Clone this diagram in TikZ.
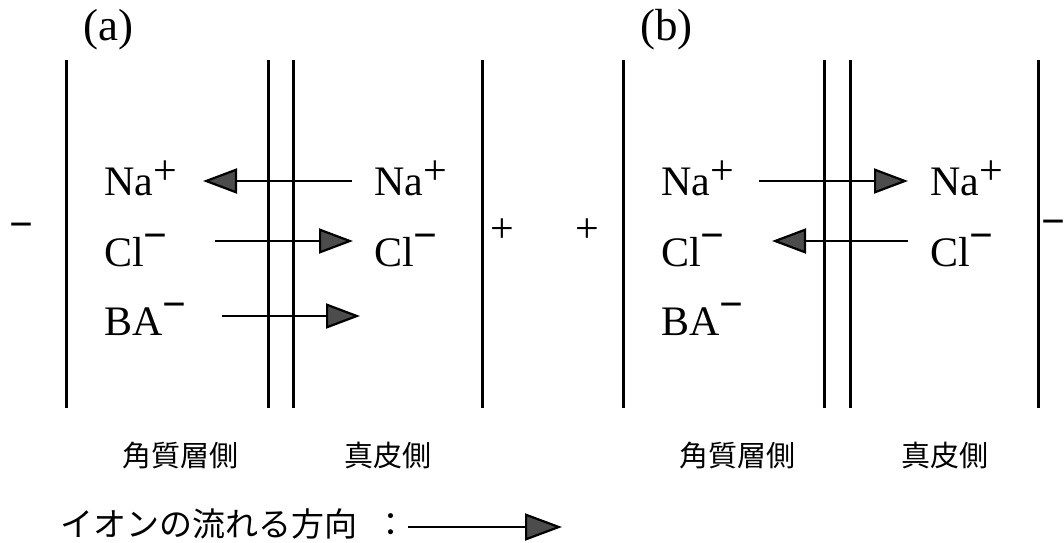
\documentclass[tikz,border=0pt]{standalone}
\usepackage{fontspec}
\setmainfont{Liberation Serif}
\newfontfamily\jpfont{Noto Sans CJK JP}
\usetikzlibrary{arrows.meta}
\newcommand{\ionp}{\raisebox{11pt}{+}}
\newcommand{\ionm}{\raisebox{17pt}{\textbf{−}}}
\begin{document}
\begin{tikzpicture}[x=1pt,y=-1pt,
  ion/.style={anchor=base west, inner sep=0pt, font=\fontsize{42}{48}\selectfont},
  sign/.style={inner sep=0pt, font=\fontsize{42}{48}\selectfont},
  panel/.style={anchor=base west, inner sep=0pt, font=\fontsize{45}{50}\selectfont},
  side/.style={anchor=base west, inner sep=0pt, font=\jpfont\fontsize{29}{34}\selectfont},
  legend/.style={anchor=base west, inner sep=0pt, font=\jpfont\fontsize{33}{38}\selectfont},
  wall/.style={line width=3pt},
  flow/.style={line width=2.2pt, -{Triangle[length=34pt,width=25pt,fill=black!70]}},
]
\useasboundingbox (0,0) rectangle (1064,542);

% panel labels
\node[panel] (labA) at (83,40) {(a)};
\node[panel] (labB) at (640,40) {(b)};

% walls (a)
\draw[wall] (66,60) -- (66,408);
\draw[wall] (268,60) -- (268,408);
\draw[wall] (293,60) -- (293,408);
\draw[wall] (482,60) -- (482,408);
% walls (b)
\draw[wall] (623,60) -- (623,408);
\draw[wall] (824,60) -- (824,408);
\draw[wall] (850,60) -- (850,408);
\draw[wall] (1038,60) -- (1038,408);

% electrode signs
\node[sign] (mA) at (21,231) {\textbf{−}};
\node[sign] (pA) at (502.5,231) {+};
\node[sign] (pB) at (587.5,231) {+};
\node[sign] (mB) at (1053,228) {\textbf{−}};

% ions (a)
\node[ion] (naAL) at (104,195) {Na\ionp};
\node[ion] (clAL) at (104,266) {Cl\ionm};
\node[ion] (baAL) at (104,335) {BA\ionm};
\node[ion] (naAR) at (374,195) {Na\ionp};
\node[ion] (clAR) at (374,266) {Cl\ionm};
% ions (b)
\node[ion] (naBL) at (661,195) {Na\ionp};
\node[ion] (clBL) at (661,266) {Cl\ionm};
\node[ion] (baBL) at (661,335) {BA\ionm};
\node[ion] (naBR) at (930,195) {Na\ionp};
\node[ion] (clBR) at (930,266) {Cl\ionm};

% arrow end points
\coordinate (aNaS) at (352,181); \coordinate (aNaE) at (203,181);
\coordinate (aClS) at (215,241); \coordinate (aClE) at (353,241);
\coordinate (aBaS) at (222,316); \coordinate (aBaE) at (360,316);
\coordinate (bNaS) at (759,181); \coordinate (bNaE) at (908,181);
\coordinate (bClS) at (908,241); \coordinate (bClE) at (772,241);
\coordinate (lgS) at (408,527); \coordinate (lgE) at (562,527);

\draw[flow] (aNaS) -- (aNaE);
\draw[flow] (aClS) -- (aClE);
\draw[flow] (aBaS) -- (aBaE);
\draw[flow] (bNaS) -- (bNaE);
\draw[flow] (bClS) -- (bClE);

% side labels
\node[side] (sideA1) at (122,466) {角質層側};
\node[side] (sideA2) at (344,466) {真皮側};
\node[side] (sideB1) at (679,466) {角質層側};
\node[side] (sideB2) at (901,466) {真皮側};

% legend
\node[legend] (lgT) at (60,536) {イオンの流れる方向};
\node[legend] (lgC) at (374,536) {：};
\draw[flow, -{Triangle[length=37pt,width=27pt,fill=black!70]}] (lgS) -- (lgE);
\end{tikzpicture}
\end{document}
